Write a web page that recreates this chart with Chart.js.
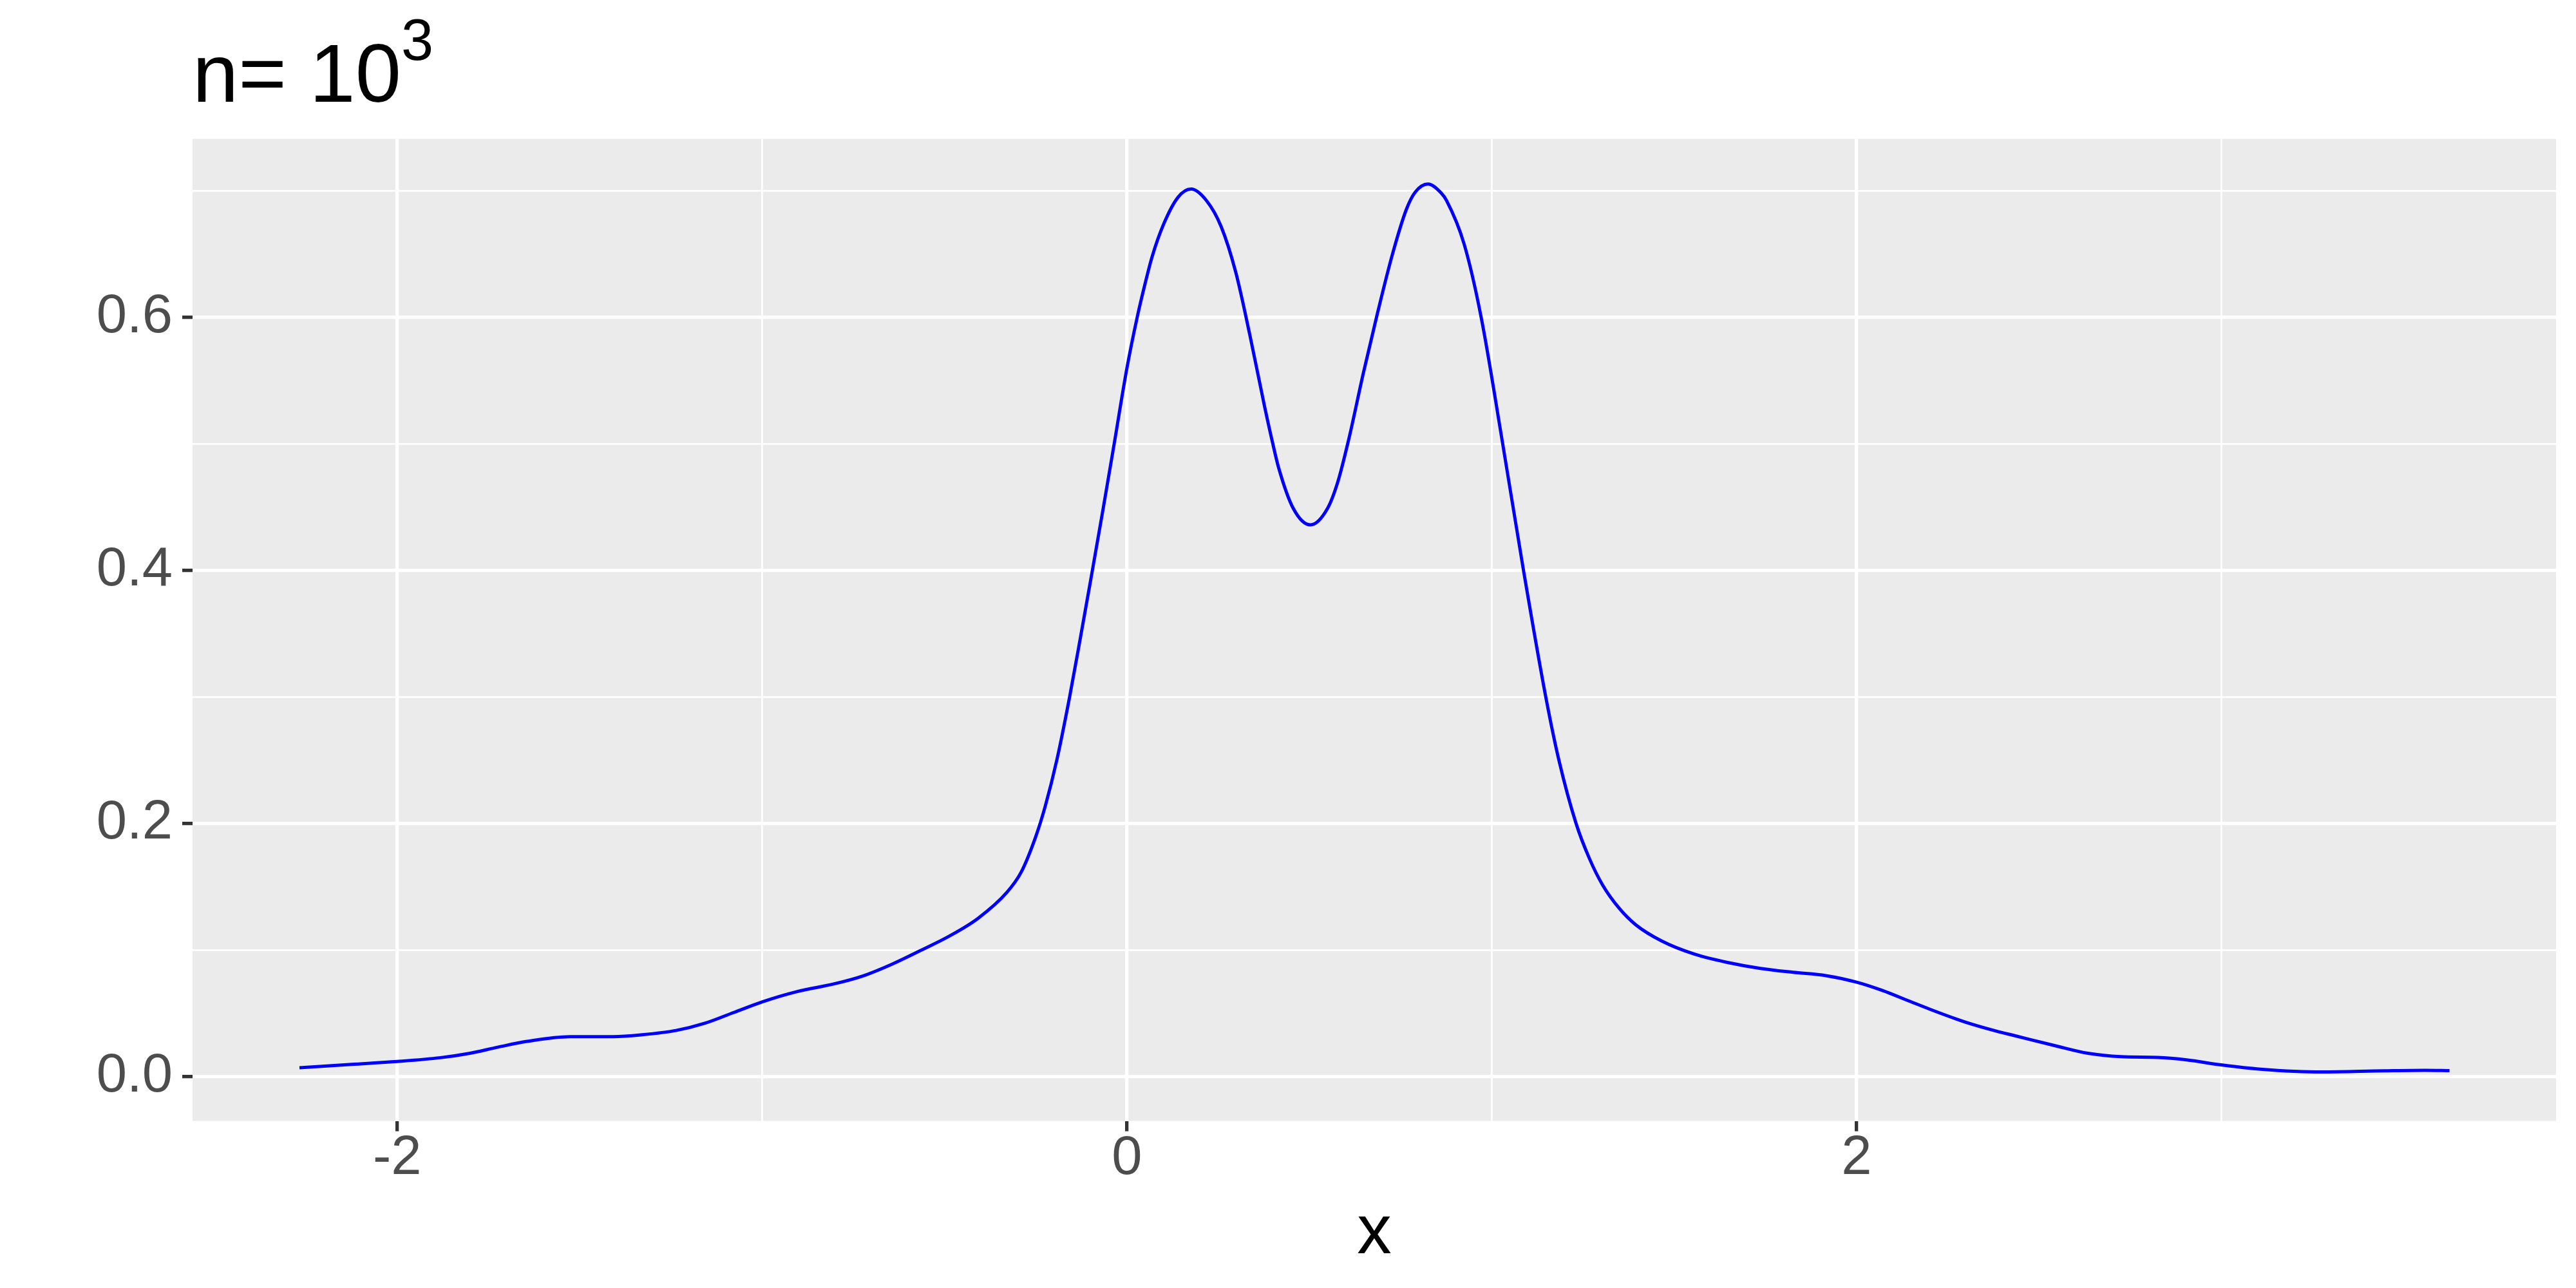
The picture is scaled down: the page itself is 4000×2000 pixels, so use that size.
<!DOCTYPE html>
<html>
<head>
<meta charset="utf-8">
<script src="https://cdn.jsdelivr.net/npm/chart.js@4.4.1/dist/chart.umd.min.js"></script>
<style>
  html, body { margin: 0; padding: 0; background: #fff; }
  #wrap { width: 4000px; height: 2000px; }
</style>
</head>
<body>
<div id="wrap"><canvas id="densityChart" width="4000" height="2000"></canvas></div>
<script>
// density curve, values
const densityX = [
  -2.268, -2.125, -2.000, -1.882, -1.803, -1.723, -1.644, -1.526, -1.408, -1.329,
  -1.236, -1.157, -1.078, -0.999, -0.905, -0.802, -0.723, -0.645, -0.566, -0.487,
  -0.408, -0.329, -0.290, -0.251, -0.224, -0.192, -0.158, -0.127, -0.097, -0.066,
  -0.035, 0.000, 0.028, 0.050, 0.069, 0.101, 0.140, 0.176, 0.219, 0.258,
  0.298, 0.337, 0.377, 0.400, 0.416, 0.456, 0.503, 0.550, 0.578,
  0.608, 0.648, 0.687, 0.727, 0.766, 0.790, 0.825, 0.861, 0.876, 0.924,
  0.971, 1.030, 1.087, 1.148, 1.184, 1.231, 1.268, 1.304, 1.349, 1.394,
  1.466, 1.556, 1.646, 1.736, 1.826, 1.916, 2.000, 2.070, 2.142, 2.200,
  2.277, 2.319, 2.383, 2.432, 2.544, 2.634, 2.724, 2.826, 2.904, 2.999,
  3.107, 3.276, 3.445, 3.557, 3.625
];
const densityY = [
  0.0068, 0.0095, 0.0118, 0.0148, 0.0182, 0.0232, 0.0277, 0.0314, 0.0314, 0.0329,
  0.0363, 0.0420, 0.0505, 0.0590, 0.0670, 0.0732, 0.0795, 0.0886, 0.0995, 0.1109,
  0.1250, 0.1455, 0.1614, 0.1887, 0.2135, 0.2503, 0.2986, 0.3476, 0.3962, 0.4474,
  0.5000, 0.5600, 0.6000, 0.6270, 0.6480, 0.6740, 0.6950, 0.7015, 0.6920, 0.6720,
  0.6360, 0.5860, 0.5300, 0.5000, 0.4810, 0.4490, 0.4360, 0.4491, 0.4700,
  0.5037, 0.5560, 0.6037, 0.6492, 0.6855, 0.6990, 0.7055, 0.6985, 0.6924, 0.6582,
  0.6000, 0.5000, 0.4000, 0.3000, 0.2500, 0.2000, 0.1720, 0.1512, 0.1330, 0.1200,
  0.1070, 0.0966, 0.0901, 0.0854, 0.0823, 0.0797, 0.0745, 0.0680, 0.0598, 0.0532,
  0.0450, 0.0410, 0.0358, 0.0323, 0.0243, 0.0183, 0.0156, 0.0150, 0.0131, 0.0091,
  0.0057, 0.0035, 0.0044, 0.0048, 0.0046
];

// axis breaks (major ones get labels, minor ones only a thin grid line)
const xMajorTicks = [-2, 0, 2];
const xMinorTicks = [-1, 1, 3];
const yMajorTicks = [0, 0.2, 0.4, 0.6];
const yMinorTicks = [0.1, 0.3, 0.5, 0.7];

const xLimits = [-2.561, 3.917];
const yLimits = [-0.0352, 0.7412];

const titleText = 'n= 10';
const titleSup = '3';
const xAxisTitle = 'x';

const FONT = '"Liberation Sans", Arial, sans-serif';

const isIn = (list, v) => list.some(m => Math.abs(m - v) < 1e-9);

// ggplot grey panel + white background
const panelBackground = {
  id: 'panelBackground',
  beforeDraw(chart) {
    const { ctx, chartArea: a } = chart;
    ctx.save();
    ctx.fillStyle = '#FFFFFF';
    ctx.fillRect(0, 0, chart.width, chart.height);
    ctx.fillStyle = '#EBEBEB';
    ctx.fillRect(a.left, a.top, a.right - a.left, a.bottom - a.top);
    ctx.restore();
  }
};

// title with superscript and the x axis title
const titles = {
  id: 'titles',
  afterDraw(chart) {
    const { ctx, chartArea: a } = chart;
    ctx.save();
    ctx.fillStyle = '#000000';
    ctx.textBaseline = 'alphabetic';
    ctx.textAlign = 'left';
    ctx.font = '128px ' + FONT;
    ctx.fillText(titleText, a.left, 158);
    const w = ctx.measureText(titleText).width;
    ctx.font = '90px ' + FONT;
    ctx.fillText(titleSup, a.left + w, 93);
    ctx.textAlign = 'center';
    ctx.font = '107px ' + FONT;
    ctx.fillText(xAxisTitle, (a.left + a.right) / 2, 1946);
    ctx.restore();
  }
};

const gridOpts = (majors) => ({
  color: '#FFFFFF',
  lineWidth: (c) => isIn(majors, c.tick.value) ? 5.3 : 2.7,
  tickColor: (c) => isIn(majors, c.tick.value) ? '#333333' : 'rgba(0,0,0,0)',
  tickWidth: 5.3,
  tickLength: 16,
  drawOnChartArea: true,
  drawTicks: true
});

const points = densityX.map((x, i) => ({ x: x, y: densityY[i] }));

new Chart(document.getElementById('densityChart'), {
  type: 'line',
  data: {
    datasets: [{
      data: points,
      borderColor: '#0000FF',
      borderWidth: 5,
      pointRadius: 0,
      fill: false,
      cubicInterpolationMode: 'monotone'
    }]
  },
  plugins: [panelBackground, titles],
  options: {
    responsive: false,
    animation: false,
    devicePixelRatio: 1,
    layout: { padding: { top: 215.6, right: 31, left: 0, bottom: 0 } },
    plugins: {
      legend: { display: false },
      tooltip: { enabled: false },
      title: { display: false }
    },
    scales: {
      x: {
        type: 'linear',
        position: 'bottom',
        min: xLimits[0],
        max: xLimits[1],
        afterBuildTicks(scale) {
          scale.ticks = [...xMajorTicks, ...xMinorTicks].sort((a, b) => a - b).map(v => ({ value: v }));
        },
        afterFit(scale) { scale.height = 259.4; },
        border: { display: false },
        grid: gridOpts(xMajorTicks),
        ticks: {
          autoSkip: false,
          maxRotation: 0,
          padding: 0,
          color: '#4D4D4D',
          font: { family: FONT, size: 85, lineHeight: 1 },
          callback: (v) => isIn(xMajorTicks, v) ? String(v) : ''
        }
      },
      y: {
        type: 'linear',
        position: 'left',
        min: yLimits[0],
        max: yLimits[1],
        afterBuildTicks(scale) {
          scale.ticks = [...yMajorTicks, ...yMinorTicks].sort((a, b) => a - b).map(v => ({ value: v }));
        },
        afterFit(scale) { scale.width = 299; },
        border: { display: false },
        grid: gridOpts(yMajorTicks),
        ticks: {
          autoSkip: false,
          padding: 15,
          color: '#4D4D4D',
          font: { family: FONT, size: 85, lineHeight: 1 },
          callback: (v) => isIn(yMajorTicks, v) ? v.toFixed(1) : ''
        }
      }
    }
  }
});
</script>
</body>
</html>
